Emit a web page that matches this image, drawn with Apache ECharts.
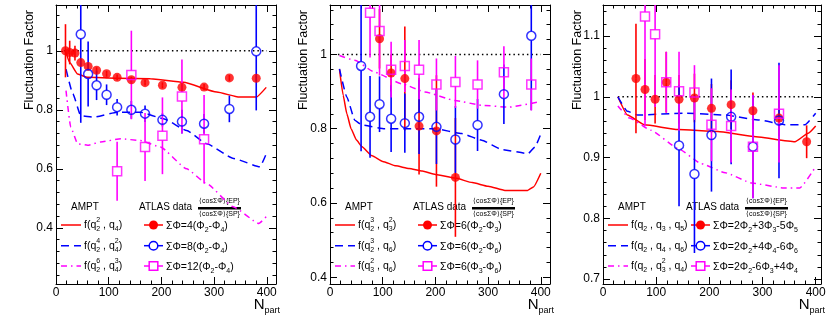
<!DOCTYPE html>
<html>
<head>
<meta charset="utf-8">
<script src="https://cdn.jsdelivr.net/npm/echarts@6/dist/echarts.min.js"></script>
<style>
  html, body { margin: 0; padding: 0; background: #fff; }
  #chart { width: 830px; height: 328px; }
</style>
</head>
<body>
<div id="chart"></div>
<script>
// ---- data ----
// left panel
var p1SolidN = [19, 26, 41, 60, 116, 179, 242, 305, 348, 380, 399];
var p1SolidV = [0.994, 0.96, 0.921, 0.91, 0.907, 0.905, 0.893, 0.86, 0.843, 0.843, 0.876];
var p1DashN = [19, 32, 47, 72, 116, 160, 204, 248, 286, 337, 387, 399];
var p1DashV = [0.938, 0.854, 0.78, 0.775, 0.792, 0.792, 0.77, 0.73, 0.685, 0.635, 0.607, 0.651];
var p1DotN = [19, 28, 41, 60, 85, 123, 160, 198, 248, 286, 336, 385, 399];
var p1DotV = [0.865, 0.741, 0.685, 0.68, 0.691, 0.702, 0.696, 0.674, 0.60, 0.55, 0.472, 0.415, 0.438];
var p1RedN = [18, 26, 36, 47, 61, 77, 96, 116, 143, 169, 202, 239, 281, 329, 380];
var p1RedV = [1.0, 0.994, 0.992, 0.96, 0.947, 0.934, 0.922, 0.91, 0.902, 0.892, 0.883, 0.876, 0.877, 0.908, 0.907];
var p1RedE = [0.09, 0.04, 0.025, 0.012, 0.01, 0.01, 0.01, 0.01, 0.01, 0.01, 0.01, 0.01, 0.01, 0.01, 0.01];
var p1BlueN = [47, 61, 77, 96, 116, 143, 169, 202, 239, 281, 329, 380];
var p1BlueV = [1.056, 0.921, 0.883, 0.851, 0.809, 0.80, 0.787, 0.766, 0.76, 0.753, 0.803, 0.998];
var p1BlueE = [0.3, 0.11, 0.05, 0.035, 0.028, 0.03, 0.028, 0.022, 0.04, 0.033, 0.045, 0.2];
var p1MagN = [116, 143, 169, 202, 239, 281];
var p1MagV = [0.592, 0.918, 0.674, 0.712, 0.845, 0.70];
var p1MagE = [0.1, 0.15, 0.115, 0.13, 0.125, 0.15];
var p1RefN = [15, 400];

// middle panel
var p2SolidN = [18, 25, 32, 40, 50, 60, 80, 100, 125, 150, 175, 200, 238, 270, 300, 332, 375, 386, 400];
var p2SolidV = [0.96, 0.89, 0.84, 0.80, 0.77, 0.752, 0.727, 0.712, 0.70, 0.693, 0.686, 0.677, 0.667, 0.655, 0.645, 0.634, 0.634, 0.643, 0.68];
var p2DashN = [18, 32, 47, 60, 104, 149, 199, 250, 288, 326, 376, 389, 399];
var p2DashV = [0.961, 0.885, 0.823, 0.81, 0.80, 0.80, 0.80, 0.787, 0.769, 0.744, 0.733, 0.751, 0.782];
var p2DotN = [18, 47, 85, 136, 180, 237, 288, 339, 396];
var p2DotV = [0.997, 0.984, 0.952, 0.921, 0.899, 0.876, 0.863, 0.858, 0.872];
var p2RedN = [94, 116, 142, 169, 202, 238];
var p2RedV = [1.042, 0.95, 0.935, 0.807, 0.794, 0.669];
var p2RedE = [0.08, 0.05, 0.14, 0.13, 0.15, 0.16];
var p2BlueN = [59, 76, 94, 116, 142, 169, 202, 238, 280, 330, 382];
var p2BlueV = [0.969, 0.832, 0.866, 0.827, 0.815, 0.832, 0.805, 0.771, 0.81, 0.893, 1.05];
var p2BlueE = [0.23, 0.11, 0.075, 0.09, 0.08, 0.1, 0.1, 0.09, 0.07, 0.08, 0.2];
var p2MagN = [76, 94, 116, 142, 169, 202, 238, 280, 330, 382];
var p2MagV = [1.112, 1.063, 0.959, 0.969, 0.959, 0.919, 0.926, 0.919, 0.952, 0.919];
var p2MagE = [0.12, 0.12, 0.075, 0.07, 0.08, 0.07, 0.07, 0.065, 0.07, 0.07];
var p2RefN = [15, 400];

// right panel
var p3SolidN = [28, 46, 78, 141, 216, 279, 361, 386, 400];
var p3SolidV = [1.0, 0.97, 0.954, 0.946, 0.943, 0.935, 0.926, 0.94, 0.952];
var p3DashN = [28, 46, 65, 153, 229, 292, 342, 380, 400];
var p3DashV = [1.0, 0.976, 0.97, 0.973, 0.97, 0.962, 0.954, 0.954, 0.973];
var p3DotN = [28, 50, 90, 141, 185, 230, 280, 340, 370, 400];
var p3DotV = [0.985, 0.965, 0.945, 0.915, 0.89, 0.875, 0.858, 0.85, 0.85, 0.885];
var p3RedN = [62, 79, 98, 119, 143, 172, 204, 241, 282, 331, 383];
var p3RedV = [1.03, 1.012, 0.996, 1.024, 0.996, 0.998, 0.981, 0.987, 0.977, 0.965, 0.926];
var p3RedE = [0.09, 0.05, 0.04, 0.05, 0.04, 0.04, 0.04, 0.04, 0.03, 0.03, 0.027];
var p3BlueN = [143, 172, 204, 241, 282, 331];
var p3BlueV = [0.92, 0.873, 0.937, 0.967, 0.918, 0.961];
var p3BlueE = [0.1, 0.13, 0.093, 0.078, 0.085, 0.095];
var p3MagN = [79, 98, 119, 143, 172, 204, 241, 282, 331];
var p3MagV = [1.132, 1.103, 1.024, 1.009, 1.007, 0.954, 0.952, 0.918, 0.972];
var p3MagE = [0.18, 0.12, 0.05, 0.065, 0.045, 0.06, 0.06, 0.085, 0.08];
var p3RefN = [28, 400];

// axis ranges
var xMax = [417.5, 417.5, 410];
var yMin = [0.21, 0.382, 0.692];
var yMax = [1.155, 1.133, 1.151];
var yStep = [0.2, 0.2, 0.1];

// legend texts
var amptLabels = [
  ['{n|f(q}{z|2}{d|2}{n| , q}{d|4}{n|)}', '{n|f(q}{z|4}{d|2}{n| , q}{z|2}{d|4}{n|)}', '{n|f(q}{z|6}{d|2}{n| , q}{z|3}{d|4}{n|)}'],
  ['{n|f(q}{z|3}{d|2}{n| , q}{z|2}{d|3}{n|)}', '{n|f(q}{z|3}{d|2}{n| , q}{d|6}{n|)}', '{n|f(q}{z|2}{d|3}{n| , q}{d|6}{n|)}'],
  ['{n|f(q}{d|2}{n| , q}{d|3}{n| , q}{d|5}{n|)}', '{n|f(q}{d|2}{n| , q}{d|4}{n| , q}{d|6}{n|)}', '{n|f(q}{d|2}{n| , q}{z|2}{d|3}{n| , q}{d|4}{n|)}']
];
var dataLabels = [
  ['{n|ΣΦ=4(Φ}{d|2}{n|-Φ}{d|4}{n|)}', '{n|ΣΦ=8(Φ}{d|2}{n|-Φ}{d|4}{n|)}', '{n|ΣΦ=12(Φ}{d|2}{n|-Φ}{d|4}{n|)}'],
  ['{n|ΣΦ=6(Φ}{d|2}{n|-Φ}{d|3}{n|)}', '{n|ΣΦ=6(Φ}{d|2}{n|-Φ}{d|6}{n|)}', '{n|ΣΦ=6(Φ}{d|3}{n|-Φ}{d|6}{n|)}'],
  ['{n|ΣΦ=2Φ}{d|2}{n|+3Φ}{d|3}{n|-5Φ}{d|5}', '{n|ΣΦ=2Φ}{d|2}{n|+4Φ}{d|4}{n|-6Φ}{d|6}', '{n|ΣΦ=2Φ}{d|2}{n|-6Φ}{d|3}{n|+4Φ}{d|4}']
];

// ---- layout / style ----
var FONT = '"Liberation Sans", Arial, Helvetica, sans-serif';
var RED = '#ff0000', BLUE = '#0000ff', MAG = '#ff00ff';
var DASH = [8, 5], DASHDOT = [6, 4, 1.5, 4];
var gridLeft = [56, 330, 603];
var gridWidth = [220, 220, 218];
var titleX = [30, 304, 578];

function pairs(xs, ys) { return xs.map(function (x, i) { return [x, ys[i]]; }); }

function curve(p, xs, ys, color, dash) {
  return {
    type: 'line', xAxisIndex: 2 * p, yAxisIndex: 2 * p, data: pairs(xs, ys),
    symbol: 'none', smooth: 0.15, smoothMonotone: 'x', silent: true, z: 2,
    lineStyle: { color: color, width: 1.5, type: dash }
  };
}

function errBars(p, xs, ys, es, color, gap) {
  return {
    type: 'custom', xAxisIndex: 2 * p, yAxisIndex: 2 * p, clip: true, silent: true, z: 3,
    data: xs.map(function (x, i) { return [x, ys[i], es[i]]; }),
    encode: { x: 0, y: 1 },
    renderItem: function (params, api) {
      var x = api.value(0), y = api.value(1), e = api.value(2);
      var c = api.coord([x, y]), hi = api.coord([x, y + e]), lo = api.coord([x, y - e]);
      var st = { stroke: color, lineWidth: 1.6 };
      var kids = [];
      if (hi[1] < c[1] - gap) kids.push({ type: 'line', shape: { x1: c[0], y1: hi[1], x2: c[0], y2: c[1] - gap }, style: st });
      if (lo[1] > c[1] + gap) kids.push({ type: 'line', shape: { x1: c[0], y1: c[1] + gap, x2: c[0], y2: lo[1] }, style: st });
      return { type: 'group', children: kids };
    }
  };
}

function marks(p, xs, ys, color, symbol, filled) {
  return {
    type: 'scatter', xAxisIndex: 2 * p, yAxisIndex: 2 * p, data: pairs(xs, ys),
    symbol: symbol, symbolSize: 9, silent: true, z: 4,
    itemStyle: filled ? { color: color } : { color: 'rgba(255,255,255,0)', borderColor: color, borderWidth: 1.5 }
  };
}

function refLine(p, xs) {
  return {
    type: 'line', xAxisIndex: 2 * p, yAxisIndex: 2 * p, data: pairs(xs, xs.map(function () { return 1; })),
    symbol: 'none', silent: true, z: 1,
    lineStyle: { color: '#000', width: 1.5, type: [1.5, 3] }
  };
}

var tickStyle = { color: '#000', width: 1 };
var xAxes = [], yAxes = [], grids = [];
for (var p = 0; p < 3; p++) {
  grids.push({ left: gridLeft[p], width: gridWidth[p], top: 5, height: 279 });
  ['bottom', 'top'].forEach(function (pos) {
    xAxes.push({
      type: 'value', gridIndex: p, position: pos, min: 0, max: xMax[p], interval: 100,
      splitLine: { show: false },
      axisLine: { show: true, onZero: false, lineStyle: tickStyle },
      axisTick: { show: true, inside: true, length: 7, lineStyle: tickStyle },
      minorTick: { show: true, splitNumber: 5, length: 3.5, lineStyle: tickStyle },
      axisLabel: {
        show: pos === 'bottom', margin: 3, color: '#000', fontSize: 12, fontFamily: FONT,
        showMaxLabel: false,
        formatter: function (v) { return v % 100 === 0 ? String(v) : ''; }
      }
    });
  });
  ['left', 'right'].forEach(function (pos) {
    yAxes.push({
      type: 'value', gridIndex: p, position: pos, min: yMin[p], max: yMax[p],
      minInterval: yStep[p], maxInterval: yStep[p], splitNumber: 5,
      splitLine: { show: false },
      axisLine: { show: true, onZero: false, lineStyle: tickStyle },
      axisTick: { show: true, inside: true, length: 7, lineStyle: tickStyle },
      minorTick: { show: true, splitNumber: 5, length: 3.5, lineStyle: tickStyle },
      axisLabel: {
        show: pos === 'left', margin: 3, color: '#000', fontSize: 12, fontFamily: FONT,
        showMinLabel: false, showMaxLabel: false,
        formatter: function (v) { return String(+v.toFixed(2)); }
      }
    });
  });
}

var series = [];
var panels = [
  [p1SolidN, p1SolidV, p1DashN, p1DashV, p1DotN, p1DotV, p1RedN, p1RedV, p1RedE, p1BlueN, p1BlueV, p1BlueE, p1MagN, p1MagV, p1MagE, p1RefN],
  [p2SolidN, p2SolidV, p2DashN, p2DashV, p2DotN, p2DotV, p2RedN, p2RedV, p2RedE, p2BlueN, p2BlueV, p2BlueE, p2MagN, p2MagV, p2MagE, p2RefN],
  [p3SolidN, p3SolidV, p3DashN, p3DashV, p3DotN, p3DotV, p3RedN, p3RedV, p3RedE, p3BlueN, p3BlueV, p3BlueE, p3MagN, p3MagV, p3MagE, p3RefN]
];
panels.forEach(function (d, p) {
  series.push(refLine(p, d[15]));
  series.push(curve(p, d[0], d[1], RED, 'solid'));
  series.push(curve(p, d[2], d[3], BLUE, DASH));
  series.push(curve(p, d[4], d[5], MAG, DASHDOT));
  series.push(errBars(p, d[6], d[7], d[8], RED, 0));
  series.push(errBars(p, d[9], d[10], d[11], BLUE, 4.5));
  series.push(errBars(p, d[12], d[13], d[14], MAG, 4.5));
  series.push(marks(p, d[6], d[7], RED, 'circle', true));
  series.push(marks(p, d[9], d[10], BLUE, 'circle', false));
  series.push(marks(p, d[12], d[13], MAG, 'rect', false));
});

// ---- legends, titles ----
var rich = {
  n: { fontSize: 10.5, fontFamily: FONT, lineHeight: 16 },
  d: { fontSize: 7, fontFamily: FONT, lineHeight: 8, verticalAlign: 'bottom' },
  z: { fontSize: 7, fontFamily: FONT, lineHeight: 8, verticalAlign: 'top', width: 0 }
};
var rowY = [225, 245.7, 266];
var lineStyles = [[RED, null], [BLUE, DASH], [MAG, DASHDOT]];
var graphics = [];
for (var q = 0; q < 3; q++) {
  var L = gridLeft[q], R = L + gridWidth[q];
  graphics.push({ type: 'text', x: titleX[q], y: 60, rotation: Math.PI / 2,
    style: { text: 'Fluctuation Factor', fontSize: 12.5, fontFamily: FONT, fill: '#000', align: 'center', verticalAlign: 'middle' } });
  graphics.push({ type: 'text', x: R + 4, y: 305,
    style: { text: '{a|N}{b|part}', align: 'right', verticalAlign: 'middle',
      rich: { a: { fontSize: 15, fontFamily: FONT, lineHeight: 20 }, b: { fontSize: 9, fontFamily: FONT, lineHeight: 10, verticalAlign: 'bottom' } } } });
  graphics.push({ type: 'text', x: L + 15, y: 207, style: { text: 'AMPT', fontSize: 10, fontFamily: FONT, fill: '#000', verticalAlign: 'middle' } });
  graphics.push({ type: 'text', x: L + 83, y: 207, style: { text: 'ATLAS data', fontSize: 10, fontFamily: FONT, fill: '#000', verticalAlign: 'middle' } });
  graphics.push({ type: 'text', x: L + 163.5, y: 201.5, style: { text: '⟨cosΣΦ⟩{EP}', fontSize: 7, fontFamily: FONT, fill: '#000', align: 'center', verticalAlign: 'middle' } });
  graphics.push({ type: 'rect', shape: { x: L + 142, y: 207, width: 43, height: 2.5 }, style: { fill: '#000' } });
  graphics.push({ type: 'text', x: L + 163.5, y: 214.5, style: { text: '⟨cosΣΦ⟩{SP}', fontSize: 7, fontFamily: FONT, fill: '#000', align: 'center', verticalAlign: 'middle' } });
  for (var r = 0; r < 3; r++) {
    var y = rowY[r], col = lineStyles[r][0];
    graphics.push({ type: 'line', shape: { x1: L + 5, y1: y, x2: L + 25, y2: y },
      style: { stroke: col, lineWidth: 1.5, lineDash: lineStyles[r][1] } });
    graphics.push({ type: 'text', x: L + 28, y: y, style: { text: amptLabels[q][r], rich: rich, verticalAlign: 'middle' } });
    var mx = L + 97.5;
    var gap = r === 0 ? 0 : 4.5;
    graphics.push({ type: 'line', shape: { x1: L + 88, y1: y, x2: mx - gap, y2: y }, style: { stroke: col, lineWidth: 1.5 } });
    graphics.push({ type: 'line', shape: { x1: mx + gap, y1: y, x2: L + 107, y2: y }, style: { stroke: col, lineWidth: 1.5 } });
    if (r === 0) graphics.push({ type: 'circle', shape: { cx: mx, cy: y, r: 4.5 }, style: { fill: col } });
    if (r === 1) graphics.push({ type: 'circle', shape: { cx: mx, cy: y, r: 4.3 }, style: { fill: 'none', stroke: col, lineWidth: 1.5 } });
    if (r === 2) graphics.push({ type: 'rect', shape: { x: mx - 4.3, y: y - 4.3, width: 8.6, height: 8.6 }, style: { fill: 'none', stroke: col, lineWidth: 1.5 } });
    graphics.push({ type: 'text', x: L + 110, y: y + 1, style: { text: dataLabels[q][r], rich: rich, verticalAlign: 'middle' } });
  }
}

var myChart = echarts.init(document.getElementById('chart'), null, { renderer: 'canvas' });
myChart.setOption({
  animation: false,
  backgroundColor: '#fff',
  grid: grids,
  xAxis: xAxes,
  yAxis: yAxes,
  series: series,
  graphic: graphics
});
</script>
</body>
</html>
